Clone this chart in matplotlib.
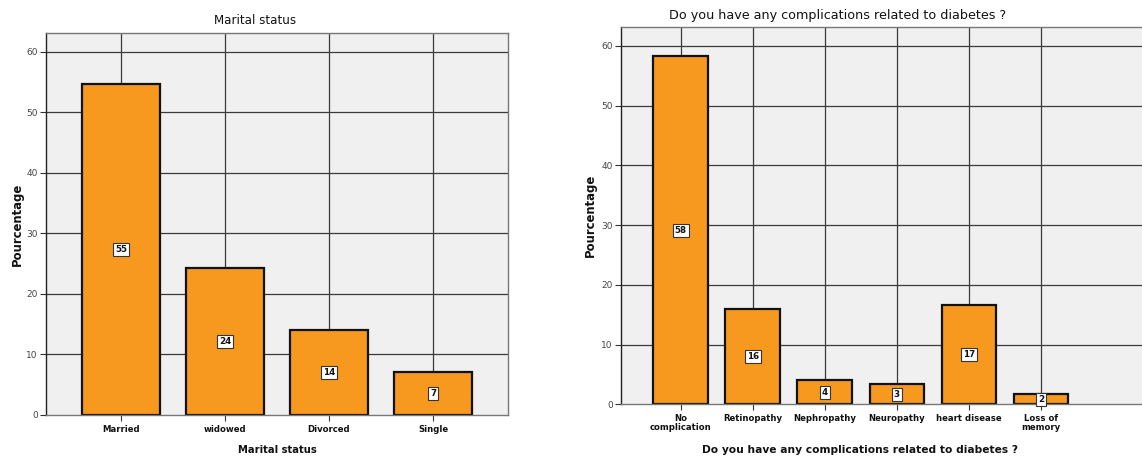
import matplotlib
matplotlib.use("Agg")
import matplotlib.pyplot as plt
import numpy as np

plt.rcParams['font.family'] = ['DejaVu Sans']

marital_cats = ["Married", "widowed", "Divorced", "Single"]
marital_vals = [54.7, 24.35, 14.05, 7.1]
marital_labels = ["55", "24", "14", "7"]

comp_cats = ["No\ncomplication", "Retinopathy", "Nephropathy", "Neuropathy", "heart disease", "Loss of\nmemory"]
comp_vals = [58.3, 16.0, 4.07, 3.35, 16.7, 1.67]
comp_labels = ["58", "16", "4", "3", "17", "2"]

yticks = [0, 10, 20, 30, 40, 50, 60]

W, H = 1142, 457
fig = plt.figure(figsize=(W/100, H/100), dpi=100)

BAR = "#f7991f"
BG = "#f0f0f0"
GRID = "#3a3a3a"

def make(ax, cats, vals, labels, xlim, width):
    x = np.arange(len(cats))
    ax.set_facecolor(BG)
    ax.set_xlim(*xlim)
    ax.set_ylim(0, 63.1)
    for t in yticks[1:]:
        ax.axhline(t, color=GRID, lw=0.9, zorder=1)
    for xi in x:
        ax.axvline(xi, color=GRID, lw=0.9, zorder=1)
    ax.bar(x, vals, width=width, color=BAR, edgecolor="#111111", linewidth=1.6, zorder=2)
    for xi, v, lab in zip(x, vals, labels):
        ax.text(xi, v/2, lab, ha="center", va="center", fontsize=6.3, fontweight="bold",
                color="#111111", zorder=4,
                bbox=dict(boxstyle="square,pad=0.22", fc="white", ec="#333333", lw=0.8))
    ax.set_yticks(yticks)
    ax.set_yticklabels([str(t) for t in yticks], fontsize=6.5, color="#444444")
    ax.set_xticks(x)
    ax.set_xticklabels(cats, fontsize=6.1, fontweight="bold", color="#111111", linespacing=0.95)
    ax.tick_params(axis="both", length=4, width=0.8, color="#333333", pad=2)
    ax.tick_params(axis="x", pad=3)
    for s in ["top", "right", "bottom"]:
        ax.spines[s].set_color("#777777")
        ax.spines[s].set_linewidth(1.0)
    ax.spines["left"].set_color("#222222")
    ax.spines["left"].set_linewidth(1.0)

ax1 = fig.add_axes([46/W, (H-415)/H, 462/W, 382/H])
make(ax1, marital_cats, marital_vals, marital_labels, (-0.72, 3.72), 0.75)

ax2 = fig.add_axes([621/W, (H-404.3)/H, 523/W, 377/H])
make(ax2, comp_cats, comp_vals, comp_labels, (-0.83, 6.43), 0.76)
ax2.spines["right"].set_visible(False)

# titles
fig.text(255.5/W, 1 - 20/H, "Marital status", ha="center", va="center", fontsize=8.6, color="#111111")
fig.text(838/W, 1 - 15/H, "Do you have any complications related to diabetes ?", ha="center", va="center",
         fontsize=9.2, color="#111111")
# x labels
fig.text(277/W, 1 - 450/H, "Marital status", ha="center", va="center", fontsize=7.2,
         fontweight="bold", color="#111111")
fig.text(860/W, 1 - 450/H, "Do you have any complications related to diabetes ?", ha="center", va="center",
         fontsize=7.7, fontweight="bold", color="#111111")
# y labels
fig.text(17/W, 1 - 224/H, "Pourcentage", ha="center", va="center", rotation=90, fontsize=8.4,
         fontweight="bold", color="#111111")
fig.text(590/W, 1 - 215/H, "Pourcentage", ha="center", va="center", rotation=90, fontsize=8.4,
         fontweight="bold", color="#111111")

fig.savefig("out.png", dpi=100, facecolor="white")
